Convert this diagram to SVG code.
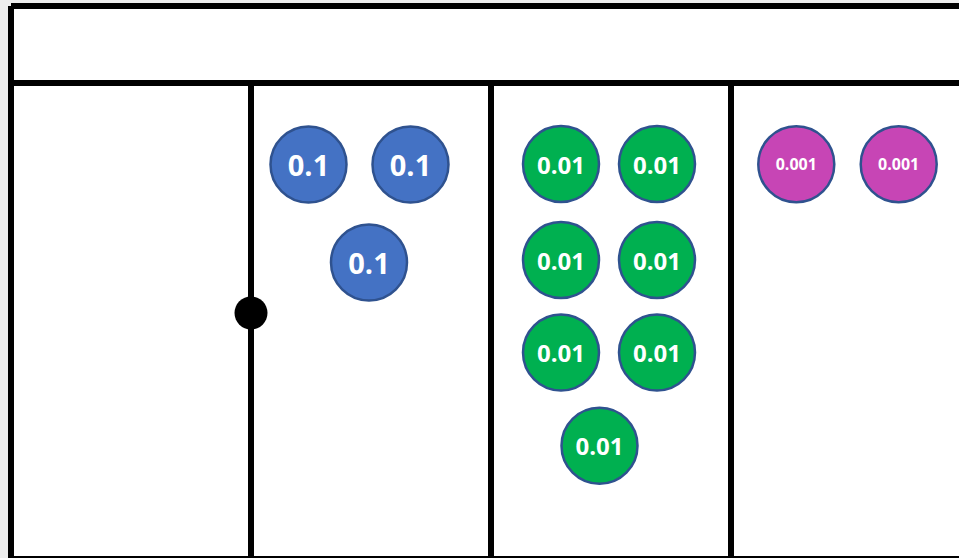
<svg xmlns="http://www.w3.org/2000/svg" width="959" height="558" viewBox="0 0 959 558">
<style>
.ln{stroke:#000;stroke-width:6;fill:none}
.c{stroke:#2F528F;stroke-width:2.5}
.b{fill:#4472C4}
.g{fill:#00B050}
.m{fill:#C745B5}
text{fill:#fff;font-family:"Open Sans","DejaVu Sans",sans-serif;font-weight:bold;text-anchor:middle;dominant-baseline:central}
.t1{font-size:29px}
.t2{font-size:24px}
.t3{font-size:16px}
</style>
<rect x="0" y="0" width="959" height="558" fill="#EEEEEE"/>
<rect x="11" y="6" width="960" height="556" fill="#fff"/>
<g id="grid">
<path class="ln" d="M11 6H970M11 83H970M11 6V562M11 559H970M251 83V562M491 83V562M731 83V562"/>
</g>
<g id="dot"><circle cx="251" cy="313" r="16.5" fill="#000"/></g>
<g id="b1"><circle class="c b" cx="308.5" cy="164.5" r="38"/><text class="t1" x="308.5" y="164.5">0.1</text></g>
<g id="b2"><circle class="c b" cx="410.5" cy="164.5" r="38"/><text class="t1" x="410.5" y="164.5">0.1</text></g>
<g id="b3"><circle class="c b" cx="369" cy="262.5" r="38"/><text class="t1" x="369" y="262.5">0.1</text></g>
<g id="g1"><circle class="c g" cx="561" cy="164" r="38"/><text class="t2" x="561" y="164">0.01</text></g>
<g id="g2"><circle class="c g" cx="657" cy="164" r="38"/><text class="t2" x="657" y="164">0.01</text></g>
<g id="g3"><circle class="c g" cx="561" cy="260" r="38"/><text class="t2" x="561" y="260">0.01</text></g>
<g id="g4"><circle class="c g" cx="657" cy="260" r="38"/><text class="t2" x="657" y="260">0.01</text></g>
<g id="g5"><circle class="c g" cx="561" cy="352.5" r="38"/><text class="t2" x="561" y="352.5">0.01</text></g>
<g id="g6"><circle class="c g" cx="657" cy="352.5" r="38"/><text class="t2" x="657" y="352.5">0.01</text></g>
<g id="g7"><circle class="c g" cx="599.5" cy="445.7" r="38"/><text class="t2" x="599.5" y="445.7">0.01</text></g>
<g id="m1"><circle class="c m" cx="796.3" cy="164.3" r="38"/><text class="t3" x="796.3" y="164.3">0.001</text></g>
<g id="m2"><circle class="c m" cx="898.7" cy="164.3" r="38"/><text class="t3" x="898.7" y="164.3">0.001</text></g>
</svg>
